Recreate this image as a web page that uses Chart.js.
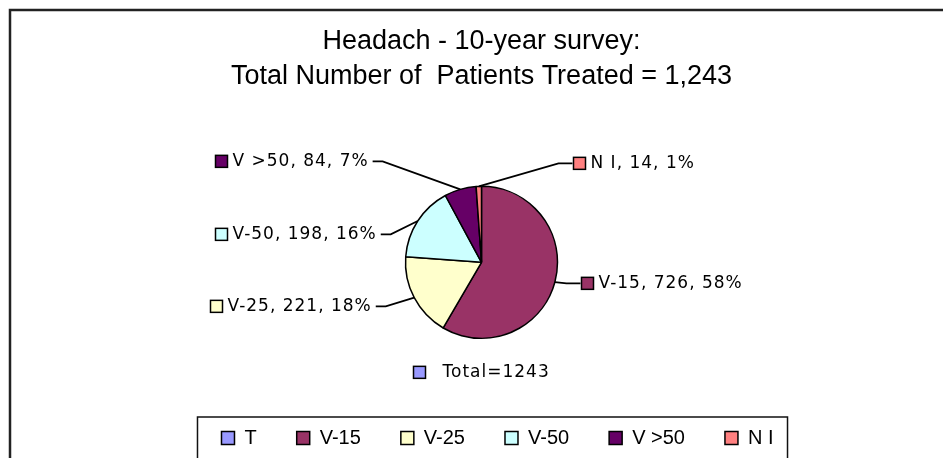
<!DOCTYPE html>
<html>
<head>
<meta charset="utf-8">
<title>Headach - 10-year survey</title>
<script src="https://cdn.jsdelivr.net/npm/chart.js@4.4.1/dist/chart.umd.min.js"></script>
<style>
  html, body { margin: 0; padding: 0; background: #fff; }
  #wrap { width: 943px; height: 458px; }
</style>
</head>
<body>
<div id="wrap"><canvas id="pieChart" width="943" height="458"></canvas></div>
<script>
// data
const categories = ['T', 'V-15', 'V-25', 'V-50', 'V >50', 'N I'];
const patients = [0, 726, 221, 198, 84, 14];
const percents = [0, 58, 18, 16, 7, 1];
const totalLabel = 'Total=1243';
const sliceColors = ['#9999FF', '#993366', '#FFFFCC', '#CCFFFF', '#660066', '#FF8080'];
const titleLines = ['Headach - 10-year survey:', 'Total Number of  Patients Treated = 1,243'];

// where each slice label sits, relative to the pie centre (square left edge, middle)
const labelLayout = [
    {dx: -68, dy: 110, gap: 29, leader: false},
    {dx: 100, dy: 21, gap: 17, leader: true},
    {dx: -271, dy: 44, gap: 17, leader: true},
    {dx: -266, dy: -28, gap: 17, leader: true},
    {dx: -266, dy: -101, gap: 17, leader: true},
    {dx: 92, dy: -99, gap: 17, leader: true}
];
// legend sits a bit right of the pie centre
const legendShift = 16;

function sliceText(i) {
    if (i == 0) return totalLabel;
    return categories[i] + ', ' + patients[i] + ', ' + percents[i] + '%';
}

// outer frame of the chart object, plus the box round the legend
const framePlugin = {
    id: 'frame',
    afterLayout(chart) {
        chart.legend.left += legendShift;
        chart.legend.right += legendShift;
    },
    beforeDraw(chart) {
        const ctx = chart.ctx;
        ctx.save();
        ctx.fillStyle = '#fff';
        ctx.fillRect(0, 0, chart.width, chart.height);
        ctx.strokeStyle = '#222';
        ctx.lineWidth = 2.5;
        ctx.strokeRect(10, 10, chart.width + 20, chart.height + 20);
        ctx.restore();
    },
    afterDraw(chart) {
        const boxes = chart.legend.legendHitBoxes;
        if (!boxes || !boxes.length) return;
        const first = boxes[0], last = boxes[boxes.length - 1];
        const ctx = chart.ctx;
        ctx.save();
        ctx.strokeStyle = '#111';
        ctx.lineWidth = 1.5;
        const top = first.top - 11;
        ctx.strokeRect(first.left - 24, top, last.left + last.width + 14 - (first.left - 24), chart.height - top + 20);
        ctx.restore();
    }
};

// slice labels with leader lines
const labelPlugin = {
    id: 'sliceLabels',
    afterDatasetsDraw(chart) {
        const ctx = chart.ctx;
        const arcs = chart.getDatasetMeta(0).data;
        const cx = arcs[0].x, cy = arcs[0].y, r = arcs[0].outerRadius;
        ctx.save();
        ctx.font = '17px "DejaVu Sans"';
        ctx.letterSpacing = '1px';
        ctx.textBaseline = 'middle';
        ctx.textAlign = 'left';
        ctx.strokeStyle = '#000';
        arcs.forEach((arc, i) => {
            const lay = labelLayout[i];
            const text = sliceText(i);
            const bx = cx + lay.dx, by = cy + lay.dy;
            ctx.fillStyle = sliceColors[i];
            ctx.fillRect(bx, by - 6, 12, 12);
            ctx.lineWidth = 1.5;
            ctx.strokeRect(bx, by - 6, 12, 12);
            ctx.fillStyle = '#000';
            ctx.fillText(text, bx + lay.gap, by);
            if (lay.leader) {
                const mid = (arc.startAngle + arc.endAngle) / 2;
                const ax = cx + Math.cos(mid) * r, ay = cy + Math.sin(mid) * r;
                let sx, ex;
                if (lay.dx < 0) {
                    sx = bx + lay.gap + ctx.measureText(text).width + 4;
                    ex = sx + 10;
                } else {
                    sx = bx - 1;
                    ex = sx - 14;
                }
                ctx.lineWidth = 1.8;
                ctx.beginPath();
                ctx.moveTo(sx, by);
                ctx.lineTo(ex, by);
                ctx.lineTo(ax, ay);
                ctx.stroke();
            }
        });
        ctx.restore();
    }
};

Chart.defaults.color = '#000';

const pieChart = new Chart(document.getElementById('pieChart').getContext('2d'), {
    type: 'pie',
    data: {
        labels: categories,
        datasets: [{
            data: patients,
            backgroundColor: sliceColors,
            borderColor: '#000',
            borderWidth: 1.5,
            radius: 76
        }]
    },
    options: {
        responsive: false,
        animation: false,
        events: [],
        layout: {
            padding: {left: 20, right: 0, top: 0, bottom: 0}
        },
        plugins: {
            title: {
                display: true,
                text: titleLines,
                color: '#000',
                font: {family: '"Liberation Sans", Arial, sans-serif', size: 27, weight: 'normal', lineHeight: 1.3},
                padding: {top: 23.5, bottom: 43}
            },
            legend: {
                position: 'bottom',
                labels: {
                    boxWidth: 13,
                    boxHeight: 13,
                    padding: 40,
                    color: '#000',
                    font: {family: '"Liberation Sans", Arial, sans-serif', size: 20}
                }
            },
            tooltip: {enabled: false}
        }
    },
    plugins: [framePlugin, labelPlugin]
});
</script>
</body>
</html>
